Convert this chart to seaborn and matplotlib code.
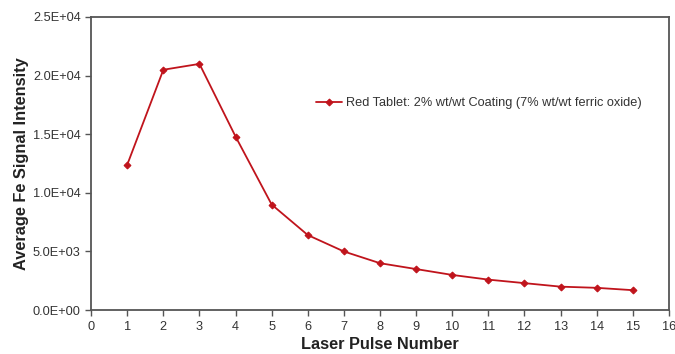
import matplotlib
matplotlib.use("Agg")
import matplotlib.pyplot as plt
import seaborn as sns
import pandas as pd
from matplotlib.ticker import FuncFormatter, MultipleLocator

pulse = [1, 2, 3, 4, 5, 6, 7, 8, 9, 10, 11, 12, 13, 14, 15]
intensity = [12400, 20500, 21000, 14800, 9000, 6400, 5000, 4000, 3500, 3000, 2600, 2300, 2000, 1900, 1700]
series_name = "Red Tablet: 2% wt/wt Coating (7% wt/wt ferric oxide)"

df = pd.DataFrame({"pulse": pulse, "intensity": intensity, "series": series_name})

sns.set_theme(style="white")
plt.rcParams["font.family"] = ["Liberation Sans", "DejaVu Sans"]

fig = plt.figure(figsize=(6.75, 3.54), dpi=100)
ax = fig.add_axes([0.135, 0.124, 0.856, 0.828])

sns.lineplot(data=df, x="pulse", y="intensity", hue="series", palette=["#c0141c"],
             marker="D", markersize=3.5, markeredgecolor="#c0141c", linewidth=1.3, ax=ax)

ax.set_xlim(0, 16)
ax.set_ylim(0, 25000)
ax.xaxis.set_major_locator(MultipleLocator(1))
ax.yaxis.set_major_locator(MultipleLocator(5000))

def sci(v, pos):
    return f"{v:.1E}"
ax.yaxis.set_major_formatter(FuncFormatter(sci))

ax.set_xlabel("Laser Pulse Number", fontsize=11.8, fontweight="bold", color="#222222", labelpad=3)
ax.set_ylabel("Average Fe Signal Intensity", fontsize=11.8, fontweight="bold", color="#222222", labelpad=3)
ax.tick_params(axis="both", which="major", direction="out", length=4, width=1,
               color="#555555", labelsize=9.2, labelcolor="#333333", bottom=True, left=True)

for sp in ax.spines.values():
    sp.set_color("#555555")
    sp.set_linewidth(1.3)

leg = ax.legend(loc="center left", bbox_to_anchor=(0.37, 0.705), frameon=False,
                fontsize=9.2, handlelength=2.0, handletextpad=0.3)
for t in leg.get_texts():
    t.set_color("#333333")

fig.savefig("out.png", dpi=100)
